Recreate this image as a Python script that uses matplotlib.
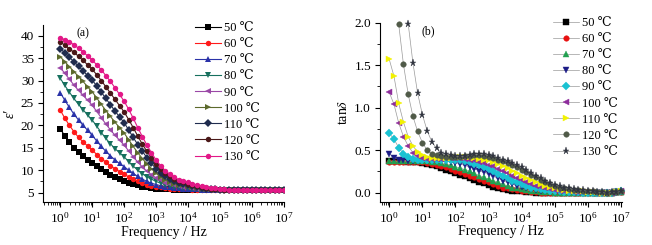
import numpy as np
import matplotlib
matplotlib.use("Agg")
import matplotlib.pyplot as plt
from matplotlib.ticker import (LogLocator, LogFormatterMathtext, MultipleLocator,
                               FormatStrFormatter, NullFormatter, FixedLocator)

plt.rcParams['font.family'] = ['Liberation Serif', 'DejaVu Serif']
plt.rcParams['mathtext.fontset'] = 'stix'

nan = float('nan')

# log frequency sweep, 7 points per decade, 1 Hz .. 10 MHz
freq = np.logspace(0, 7, 50)
decades = [1e0, 1e1, 1e2, 1e3, 1e4, 1e5, 1e6, 1e7]

temps = ['50 ℃', '60 ℃', '70 ℃', '80 ℃', '90 ℃', '100 ℃', '110 ℃', '120 ℃', '130 ℃']

# (a) real permittivity
eps50 = [19.3, 17.6, 16.2, 15.0, 14.0, 13.1, 12.3, 11.6,
         10.9, 10.2, 9.6, 9.0, 8.5, 8.0, 7.6,
         7.2, 6.9, 6.6, 6.35, 6.15, 6.0, 5.9,
         5.8, 5.75, 5.7, 5.65, 5.6, 5.6, 5.55,
         5.55, 5.5, 5.5, 5.5, 5.5, 5.5, 5.5,
         5.5, 5.5, 5.5, 5.5, 5.5, 5.5, 5.5,
         5.5, 5.5, 5.5, 5.5, 5.5, 5.5, 5.5]
eps60 = [23.4, 21.6, 20.0, 18.6, 17.3, 16.3, 15.4, 14.5,
         13.5, 12.6, 11.8, 11.0, 10.3, 9.7, 9.1,
         8.5, 8.0, 7.5, 7.1, 6.8, 6.5, 6.3,
         6.15, 6.0, 5.9, 5.85, 5.8, 5.75, 5.7,
         5.65, 5.6, 5.6, 5.55, 5.55, 5.5, 5.5,
         5.5, 5.5, 5.5, 5.5, 5.5, 5.5, 5.5,
         5.5, 5.5, 5.5, 5.5, 5.5, 5.5, 5.5]
eps70 = [27.3, 25.6, 24.0, 22.5, 21.2, 20.0, 18.9, 17.8,
         16.5, 15.3, 14.2, 13.2, 12.3, 11.5, 10.8,
         10.0, 9.3, 8.6, 8.0, 7.5, 7.1, 6.8,
         6.55, 6.35, 6.2, 6.05, 5.95, 5.85, 5.8,
         5.75, 5.7, 5.65, 5.6, 5.6, 5.55, 5.55,
         5.5, 5.5, 5.5, 5.5, 5.5, 5.5, 5.5,
         5.5, 5.5, 5.5, 5.5, 5.5, 5.5, 5.5]
eps80 = [30.5, 28.9, 27.4, 26.0, 24.7, 23.5, 22.3, 21.2,
         19.8, 18.4, 17.1, 15.9, 14.8, 13.9, 13.0,
         11.9, 10.9, 10.0, 9.2, 8.5, 8.0, 7.5,
         7.1, 6.8, 6.55, 6.35, 6.2, 6.1, 6.0,
         5.9, 5.8, 5.7, 5.65, 5.6, 5.6, 5.55,
         5.55, 5.5, 5.5, 5.5, 5.5, 5.5, 5.5,
         5.5, 5.5, 5.5, 5.5, 5.5, 5.5, 5.5]
eps90 = [32.9, 31.6, 30.3, 29.0, 27.8, 26.7, 25.6, 24.5,
         23.1, 21.7, 20.3, 19.0, 17.8, 16.7, 15.6,
         14.3, 13.0, 11.8, 10.7, 9.8, 9.0, 8.3,
         7.7, 7.25, 6.9, 6.65, 6.45, 6.3, 6.2,
         6.05, 5.9, 5.8, 5.7, 5.65, 5.6, 5.6,
         5.55, 5.55, 5.5, 5.5, 5.5, 5.5, 5.5,
         5.5, 5.5, 5.5, 5.5, 5.5, 5.5, 5.5]
eps100 = [35.3, 34.2, 33.1, 32.0, 30.9, 29.8, 28.6, 27.5,
          26.1, 24.7, 23.3, 22.0, 20.7, 19.5, 18.3,
          16.8, 15.3, 13.9, 12.6, 11.4, 10.3, 9.3,
          8.5, 7.9, 7.4, 7.0, 6.8, 6.6, 6.4,
          6.2, 6.05, 5.9, 5.8, 5.7, 5.65, 5.6,
          5.6, 5.55, 5.55, 5.5, 5.5, 5.5, 5.5,
          5.5, 5.5, 5.5, 5.5, 5.5, 5.5, 5.5]
eps110 = [37.1, 36.2, 35.2, 34.2, 33.2, 32.2, 31.1, 30.1,
          28.8, 27.4, 26.0, 24.6, 23.2, 21.9, 20.6,
          19.0, 17.3, 15.7, 14.2, 12.8, 11.5, 10.3,
          9.4, 8.6, 8.0, 7.5, 7.2, 6.9, 6.7,
          6.45, 6.25, 6.05, 5.9, 5.8, 5.7, 5.65,
          5.6, 5.6, 5.55, 5.55, 5.5, 5.5, 5.5,
          5.5, 5.5, 5.5, 5.5, 5.5, 5.5, 5.5]
eps120 = [38.6, 37.9, 37.1, 36.3, 35.4, 34.5, 33.5, 32.5,
          31.3, 30.0, 28.6, 27.2, 25.8, 24.4, 23.0,
          21.3, 19.5, 17.6, 15.8, 14.2, 12.7, 11.3,
          10.2, 9.3, 8.6, 8.0, 7.6, 7.3, 7.0,
          6.7, 6.45, 6.25, 6.05, 5.9, 5.8, 5.7,
          5.65, 5.6, 5.6, 5.55, 5.55, 5.55, 5.5,
          5.5, 5.5, 5.5, 5.5, 5.5, 5.5, 5.5]
eps130 = [39.6, 39.1, 38.6, 38.0, 37.2, 36.4, 35.5, 34.6,
          33.5, 32.4, 31.1, 29.8, 28.4, 26.9, 25.4,
          23.6, 21.6, 19.5, 17.5, 15.6, 13.9, 12.3,
          11.0, 9.9, 9.1, 8.4, 7.9, 7.6, 7.3,
          7.0, 6.7, 6.5, 6.3, 6.1, 5.95, 5.8,
          5.7, 5.65, 5.6, 5.6, 5.55, 5.55, 5.55,
          5.5, 5.5, 5.5, 5.5, 5.5, 5.5, 5.5]

# (b) loss tangent
tan50 = [0.37, 0.37, 0.37, 0.37, 0.36, 0.36, 0.36, 0.35,
         0.34, 0.32, 0.31, 0.29, 0.27, 0.25, 0.23,
         0.21, 0.19, 0.17, 0.15, 0.13, 0.11, 0.09,
         0.07, 0.055, 0.045, 0.035, 0.025, 0.02, 0.015,
         0.01, 0.005, 0.0, 0.0, 0.0, 0.0, 0.0,
         0.0, 0.0, 0.0, 0.0, 0.0, 0.0, 0.0,
         0.0, 0.0, 0.0, -0.005, 0.0, 0.005, 0.01]
tan60 = [0.36, 0.36, 0.36, 0.36, 0.36, 0.36, 0.36, 0.36,
         0.35, 0.34, 0.33, 0.31, 0.30, 0.28, 0.26,
         0.24, 0.22, 0.20, 0.18, 0.16, 0.14, 0.12,
         0.10, 0.08, 0.06, 0.05, 0.04, 0.03, 0.02,
         0.015, 0.01, 0.005, 0.0, 0.0, 0.0, 0.0,
         0.0, 0.0, 0.0, 0.0, 0.0, 0.0, 0.0,
         0.0, 0.0, 0.0, -0.005, 0.0, 0.005, 0.01]
tan70 = [0.37, 0.37, 0.37, 0.37, 0.37, 0.37, 0.37, 0.37,
         0.37, 0.36, 0.36, 0.35, 0.34, 0.32, 0.30,
         0.29, 0.27, 0.25, 0.23, 0.20, 0.18, 0.16,
         0.14, 0.12, 0.10, 0.08, 0.06, 0.05, 0.04,
         0.03, 0.02, 0.015, 0.01, 0.01, 0.005, 0.0,
         0.0, 0.0, 0.0, 0.0, 0.0, 0.0, 0.0,
         0.0, 0.0, 0.0, -0.005, 0.0, 0.005, 0.01]
tan80 = [0.46, 0.41, 0.39, 0.38, 0.37, 0.37, 0.37, 0.38,
         0.38, 0.38, 0.38, 0.37, 0.37, 0.36, 0.35,
         0.34, 0.32, 0.30, 0.28, 0.26, 0.24, 0.22,
         0.19, 0.17, 0.14, 0.12, 0.10, 0.08, 0.07,
         0.05, 0.04, 0.03, 0.025, 0.02, 0.015, 0.01,
         0.01, 0.005, 0.0, 0.0, 0.0, 0.0, 0.0,
         0.0, 0.0, 0.0, -0.005, 0.0, 0.005, 0.01]
tan90 = [0.70, 0.63, 0.53, 0.46, 0.42, 0.40, 0.39, 0.39,
         0.39, 0.39, 0.39, 0.39, 0.39, 0.39, 0.39,
         0.38, 0.37, 0.36, 0.34, 0.32, 0.30, 0.28,
         0.25, 0.22, 0.20, 0.17, 0.14, 0.12, 0.10,
         0.08, 0.06, 0.05, 0.04, 0.03, 0.02, 0.02,
         0.015, 0.01, 0.01, 0.005, 0.005, 0.0, 0.0,
         0.0, 0.0, 0.0, -0.005, 0.0, 0.005, 0.015]
tan100 = [1.18, 1.04, 0.82, 0.66, 0.55, 0.47, 0.43, 0.41,
          0.40, 0.40, 0.40, 0.40, 0.41, 0.41, 0.41,
          0.41, 0.40, 0.39, 0.38, 0.36, 0.35, 0.33,
          0.31, 0.28, 0.26, 0.23, 0.20, 0.17, 0.15,
          0.12, 0.10, 0.08, 0.065, 0.05, 0.04, 0.03,
          0.025, 0.02, 0.015, 0.01, 0.01, 0.01, 0.005,
          0.005, 0.0, 0.0, -0.005, 0.0, 0.01, 0.015]
tan110 = [1.57, 1.37, 1.05, 0.83, 0.66, 0.55, 0.48, 0.44,
          0.42, 0.41, 0.41, 0.41, 0.41, 0.41, 0.42,
          0.42, 0.42, 0.42, 0.41, 0.40, 0.39, 0.38,
          0.36, 0.34, 0.31, 0.29, 0.26, 0.23, 0.20,
          0.17, 0.15, 0.12, 0.10, 0.08, 0.065, 0.05,
          0.04, 0.03, 0.025, 0.02, 0.02, 0.015, 0.01,
          0.01, 0.005, 0.0, -0.005, 0.0, 0.01, 0.015]
tan120 = [nan, nan, 1.98, 1.51, 1.16, 0.90, 0.72, 0.59,
          0.50, 0.46, 0.44, 0.43, 0.42, 0.42, 0.42,
          0.42, 0.43, 0.43, 0.44, 0.44, 0.43, 0.42,
          0.41, 0.39, 0.37, 0.35, 0.32, 0.30, 0.27,
          0.24, 0.21, 0.18, 0.15, 0.12, 0.10, 0.08,
          0.06, 0.05, 0.04, 0.035, 0.03, 0.025, 0.02,
          0.015, 0.01, 0.005, 0.0, 0.005, 0.01, 0.02]
tan130 = [nan, nan, nan, nan, 1.99, 1.53, 1.17, 0.92,
          0.73, 0.60, 0.52, 0.47, 0.45, 0.44, 0.43,
          0.43, 0.43, 0.44, 0.45, 0.45, 0.45, 0.44,
          0.43, 0.41, 0.39, 0.37, 0.35, 0.32, 0.30,
          0.27, 0.235, 0.20, 0.17, 0.14, 0.115, 0.095,
          0.075, 0.06, 0.05, 0.04, 0.035, 0.03, 0.02,
          0.015, 0.01, 0.005, 0.0, 0.005, 0.01, 0.02]

eps_all = [eps50, eps60, eps70, eps80, eps90, eps100, eps110, eps120, eps130]
tan_all = [tan50, tan60, tan70, tan80, tan90, tan100, tan110, tan120, tan130]

colors_a = ['#000000', '#ff1a1a', '#2a32a8', '#17705e', '#9a48a6',
            '#5c6a2c', '#1f2c4e', '#4a1818', '#e21887']
markers_a = ['s', 'o', '^', 'v', '<', '>', 'D', 'o', 'o']
colors_b = ['#000000', '#e81010', '#21a050', '#1c1c86', '#19c2d2',
            '#8e2c9c', '#f2f200', '#505a48', '#30343f']
markers_b = ['s', 'o', '^', 'v', 'D', '<', '>', 'o', '*']


def style_axes(ax):
    ax.set_xscale('log')
    ax.spines['top'].set_visible(False)
    ax.spines['right'].set_visible(False)
    ax.spines['left'].set_linewidth(0.8)
    ax.spines['bottom'].set_linewidth(0.8)
    ax.xaxis.set_major_locator(FixedLocator(decades))
    ax.xaxis.set_minor_locator(LogLocator(base=10, subs=np.arange(2, 10), numticks=20))
    ax.xaxis.set_major_formatter(LogFormatterMathtext())
    ax.xaxis.set_minor_formatter(NullFormatter())
    ax.tick_params(which='major', direction='out', length=3.5, width=0.8, labelsize=9.5, pad=3)
    ax.tick_params(which='minor', direction='out', length=2, width=0.6)
    ax.set_xlabel('Frequency / Hz', fontsize=10, labelpad=0)


fig = plt.figure(figsize=(6.52, 2.45), dpi=100)

# ---- (a) ----
ax1 = fig.add_axes([0.066, 0.1755, 0.3696, 0.7225])
for vals, c, m, lab in zip(eps_all, colors_a, markers_a, temps):
    ax1.plot(freq, vals, color=c, marker=m, markersize=3.9, linewidth=0.8,
             markeredgewidth=0, label=lab)
style_axes(ax1)
ax1.set_xlim(10 ** -0.54, 10 ** 7.01)
ax1.set_ylim(2.9, 42.4)
ax1.yaxis.set_major_locator(MultipleLocator(5))
ax1.yaxis.set_minor_locator(MultipleLocator(2.5))
ax1.set_ylabel('ε′', fontsize=10, fontstyle='italic', labelpad=3)
ax1.text(0.14, 0.985, '(a)', transform=ax1.transAxes, fontsize=8.5, va='top')
ax1.legend(loc='upper left', bbox_to_anchor=(195 / 652, 1 - 22 / 245),
           bbox_transform=fig.transFigure, frameon=False, fontsize=9,
           handlelength=2.1, handletextpad=0.2, labelspacing=0.33, borderpad=0,
           borderaxespad=0)

# ---- (b) ----
ax2 = fig.add_axes([0.5828, 0.177, 0.3712, 0.730])
for vals, c, m, lab in zip(tan_all, colors_b, markers_b, temps):
    ms = 5.2 if m == '*' else 4.0
    ax2.plot(freq, vals, color='#9a9a9a', marker=m, markersize=ms, linewidth=0.5,
             markerfacecolor=c, markeredgecolor=c, markeredgewidth=0.3,
             label=lab, clip_on=False)
style_axes(ax2)
ax2.set_xlim(10 ** -0.28, 10 ** 7.03)
ax2.set_ylim(-0.106, 2.0)
ax2.yaxis.set_major_locator(MultipleLocator(0.5))
ax2.yaxis.set_minor_locator(MultipleLocator(0.25))
ax2.yaxis.set_major_formatter(FormatStrFormatter('%.1f'))
ax2.set_ylabel(r'tan$\delta$', fontsize=10, labelpad=3)
ax2.text(0.17, 0.985, '(b)', transform=ax2.transAxes, fontsize=8.5, va='top')
ax2.legend(loc='upper left', bbox_to_anchor=(553 / 652, 1 - 17 / 245),
           bbox_transform=fig.transFigure, frameon=False, fontsize=9,
           handlelength=2.1, handletextpad=0.2, labelspacing=0.33, borderpad=0,
           borderaxespad=0)

fig.savefig('out.png', dpi=100)
